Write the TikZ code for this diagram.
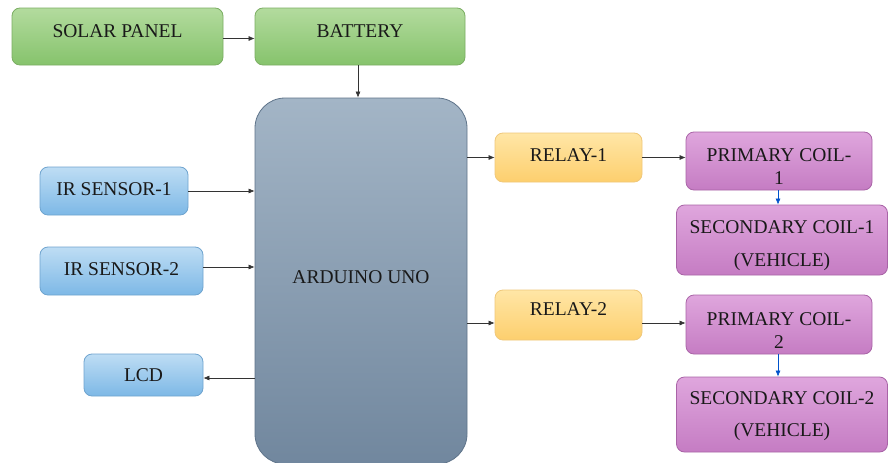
\documentclass[tikz,border=0pt]{standalone}
\usepackage{fontspec}
\setmainfont{Liberation Serif}
\usetikzlibrary{arrows.meta}

\definecolor{greenTop}{HTML}{B3DB9E}
\definecolor{greenBot}{HTML}{86C36C}
\definecolor{greenLine}{HTML}{7BAE63}
\definecolor{blueTop}{HTML}{BEDDF4}
\definecolor{blueBot}{HTML}{7DB8E6}
\definecolor{blueLine}{HTML}{6FA4CF}
\definecolor{yellowTop}{HTML}{FFE6A6}
\definecolor{yellowBot}{HTML}{FDCF6E}
\definecolor{yellowLine}{HTML}{F0C87A}
\definecolor{purpleTop}{HTML}{DFA6DD}
\definecolor{purpleBot}{HTML}{C57CC3}
\definecolor{purpleLine}{HTML}{A964A7}
\definecolor{unoTop}{HTML}{A3B5C6}
\definecolor{unoBot}{HTML}{71879E}
\definecolor{unoLine}{HTML}{5F748A}

\begin{document}
\begin{tikzpicture}[x=1pt,y=-1pt,
  font=\fontsize{19.5}{23}\selectfont,
  block/.style={rounded corners=8pt,line width=0.8pt,text=black!90,align=center,inner sep=0pt},
  lift/.style={text height=13pt,text depth=#1},
  power/.style={block,draw=greenLine,top color=greenTop,bottom color=greenBot},
  sensor/.style={block,draw=blueLine,top color=blueTop,bottom color=blueBot},
  relay/.style={block,draw=yellowLine,top color=yellowTop,bottom color=yellowBot},
  coil/.style={block,draw=purpleLine,top color=purpleTop,bottom color=purpleBot},
  link/.style={-{Latex[length=6pt,width=5pt]},line width=0.6pt,black!80},
  wireless/.style={-{Latex[length=6pt,width=5pt]},line width=0.6pt,blue!60!cyan!80!black}]
  \useasboundingbox[fill=white] (0,0) rectangle (889,463);

  % Power
  \node[power,lift=11pt,minimum width=211pt,minimum height=57pt] (solar) at (117.5,36.5) {SOLAR PANEL};
  \node[power,lift=11pt,minimum width=210pt,minimum height=57pt] (battery) at (360,36.5) {BATTERY};

  % Controller
  \node[block,lift=8pt,rounded corners=30pt,draw=unoLine,top color=unoTop,bottom color=unoBot,
        minimum width=212pt,minimum height=366pt] (uno) at (361,281) {ARDUINO UNO};

  % Inputs and display
  \node[sensor,lift=5pt,minimum width=148pt,minimum height=48pt] (ir1) at (114,191) {IR SENSOR-1};
  \node[sensor,lift=5pt,minimum width=163pt,minimum height=48pt] (ir2) at (121.5,271) {IR SENSOR-2};
  \node[sensor,lift=1pt,minimum width=119pt,minimum height=42pt] (lcd) at (143.5,375) {LCD};

  % Relays
  \node[relay,lift=5pt,minimum width=147pt,minimum height=49pt] (relay1) at (568.5,157.5) {RELAY-1};
  \node[relay,lift=13pt,minimum width=147pt,minimum height=50pt] (relay2) at (568.5,315) {RELAY-2};

  % Coils
  \node[coil,minimum width=186pt,minimum height=58pt] (prim1) at (779,161) {\rule{0pt}{23pt}PRIMARY COIL-\\1};
  \node[coil,minimum width=211pt,minimum height=70pt] (sec1) at (782,240) {\rule{0pt}{25pt}SECONDARY COIL-1\\[10pt](VEHICLE)};
  \node[coil,minimum width=186pt,minimum height=59pt] (prim2) at (779,324.5) {\rule{0pt}{25pt}PRIMARY COIL-\\2};
  \node[coil,minimum width=211pt,minimum height=75pt] (sec2) at (782,414.5) {\rule{0pt}{17pt}SECONDARY COIL-2\\[9pt](VEHICLE)};

  % Connections
  \draw[link] ([yshift=-2pt]solar.east) -- ([yshift=-2pt]battery.west);
  \draw[link] ([xshift=-2pt]battery.south) -- ([xshift=-2pt]battery.south |- uno.north);
  \draw[link] (ir1.east) -- (ir1.east -| uno.west);
  \draw[link] ([yshift=4pt]ir2.east) -- ([yshift=4pt]ir2.east -| uno.west);
  \draw[link] ([yshift=-3pt]lcd.east -| uno.west) -- ([yshift=-3pt]lcd.east);
  \draw[link] (relay1.west -| uno.east) -- (relay1.west);
  \draw[link] ([yshift=-8pt]relay2.west -| uno.east) -- ([yshift=-8pt]relay2.west);
  \draw[link] (relay1.east) -- (relay1.east -| prim1.west);
  \draw[link] ([yshift=-8pt]relay2.east) -- ([yshift=-8pt]relay2.east -| prim2.west);
  \draw[wireless] ([xshift=-1pt]prim1.south) -- ([xshift=-1pt]prim1.south |- sec1.north);
  \draw[wireless] ([xshift=-1pt]prim2.south) -- ([xshift=-1pt]prim2.south |- sec2.north);
\end{tikzpicture}
\end{document}
